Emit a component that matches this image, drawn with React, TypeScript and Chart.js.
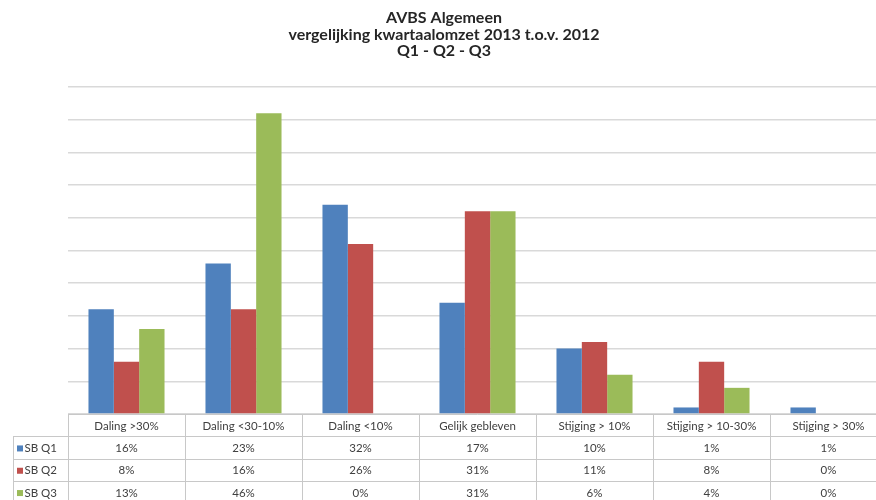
import React, { useEffect, useRef } from "react";
import { Chart, registerables } from "chart.js";

Chart.register(...registerables);

const titleLines = ["AVBS Algemeen", "vergelijking kwartaalomzet 2013 t.o.v. 2012", "Q1 - Q2 - Q3"];
const categories = [
  "Daling >30%",
  "Daling <30-10%",
  "Daling <10%",
  "Gelijk gebleven",
  "Stijging > 10%",
  "Stijging > 10-30%",
  "Stijging > 30%",
];
const seriesNames = ["SB Q1", "SB Q2", "SB Q3"];
const q1Values = [16, 23, 32, 17, 10, 1, 1];
const q2Values = [8, 16, 26, 31, 11, 8, 0];
const q3Values = [13, 46, 0, 31, 6, 4, 0];
const seriesColors = ["#4f81bd", "#c0504d", "#9bbb59"];

const FONT = "Lato, 'Open Sans', sans-serif";

const tablePlugin = {
  id: "dataTable",
  afterDraw(chart: any) {
    const ctx = chart.ctx;
    const xs = chart.scales.x;
    const area = chart.chartArea;
    const n = categories.length;
    const colW = (area.right - area.left) / n;
    const top = area.bottom;
    const rowH = 22.3;
    const legendLeft = 13;
    ctx.save();
    // title
    ctx.fillStyle = "#262626";
    ctx.font = `bold 16px ${FONT}`;
    ctx.textAlign = "center";
    ctx.textBaseline = "middle";
    const cx = chart.width / 2;
    titleLines.forEach((t, i) => ctx.fillText(t, cx, 18 + i * 16.5));

    // table lines
    ctx.strokeStyle = "#c8c8c8";
    ctx.lineWidth = 1;
    ctx.beginPath();
    ctx.moveTo(area.left, top + 0.5);
    ctx.lineTo(area.right, top + 0.5);
    for (let r = 1; r <= 3; r++) {
      const y = Math.round(top + r * rowH) + 0.5;
      ctx.moveTo(legendLeft, y);
      ctx.lineTo(area.right, y);
    }
    for (let c = 0; c <= n; c++) {
      const x = Math.round(area.left + c * colW) + 0.5;
      ctx.moveTo(x, top);
      ctx.lineTo(x, chart.height);
    }
    ctx.moveTo(legendLeft + 0.5, top + rowH);
    ctx.lineTo(legendLeft + 0.5, chart.height);
    ctx.stroke();

    ctx.font = `11.5px ${FONT}`;
    ctx.fillStyle = "#404040";
    categories.forEach((cat, i) => {
      ctx.fillText(cat, xs.getPixelForValue(i), top + rowH / 2 + 1);
    });
    const allValues = [q1Values, q2Values, q3Values];
    allValues.forEach((vals, r) => {
      const y = top + rowH * (r + 1) + rowH / 2 + 1;
      vals.forEach((v, i) => {
        ctx.fillStyle = "#404040";
        ctx.textAlign = "center";
        ctx.fillText(`${v}%`, xs.getPixelForValue(i), y);
      });
      ctx.fillStyle = seriesColors[r];
      ctx.fillRect(legendLeft + 4, y - 3, 6, 6);
      ctx.fillStyle = "#404040";
      ctx.textAlign = "left";
      ctx.fillText(seriesNames[r], legendLeft + 11.5, y);
    });
    ctx.restore();
  },
};

export default function App() {
  const ref = useRef<HTMLCanvasElement>(null);
  useEffect(() => {
    document.body.style.margin = "0";
    const chart = new Chart(ref.current!, {
      type: "bar",
      data: {
        labels: categories,
        datasets: [q1Values, q2Values, q3Values].map((vals, i) => ({
          label: seriesNames[i],
          data: vals,
          backgroundColor: seriesColors[i],
          borderWidth: 0,
          categoryPercentage: 0.65,
          barPercentage: 1,
        })),
      },
      options: {
        animation: false,
        responsive: false,
        layout: { padding: { left: 68, right: 1, top: 87, bottom: 86 } },
        plugins: { legend: { display: false }, title: { display: false }, tooltip: { enabled: false } },
        scales: {
          x: { display: false },
          y: {
            min: 0,
            max: 50,
            ticks: { display: false, stepSize: 5 },
            grid: { color: "#d9d9d9", drawTicks: false, lineWidth: 1.5 },
            border: { display: false },
          },
        },
      },
      plugins: [tablePlugin],
    });
    return () => chart.destroy();
  }, []);
  return (
    <div style={{ width: 876, height: 500, overflow: "hidden", background: "#fff" }}>
      <canvas ref={ref} width={888} height={500} style={{ display: "block" }} />
    </div>
  );
}
